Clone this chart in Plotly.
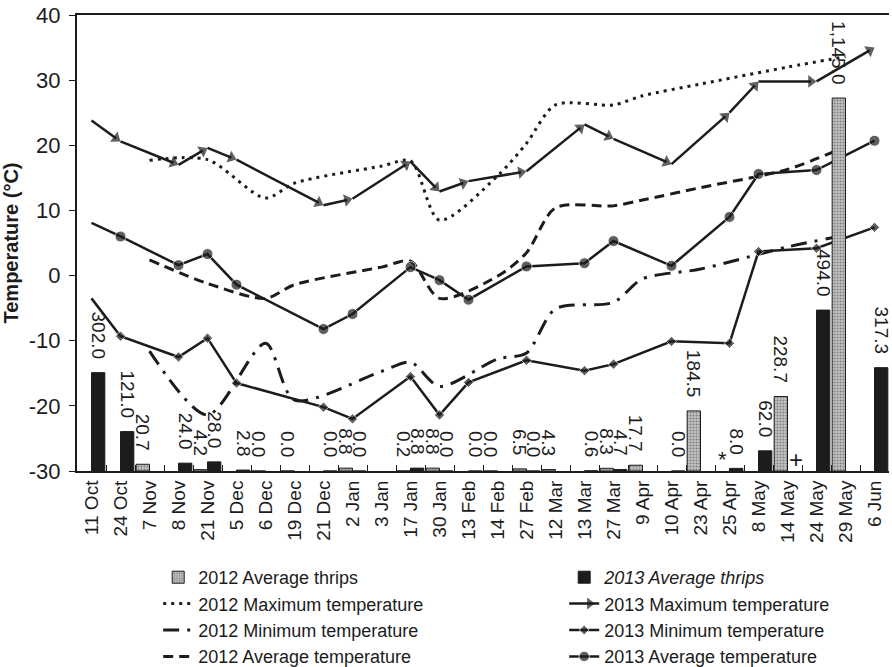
import plotly.graph_objects as go

categories = ["11 Oct", "24 Oct", "7 Nov", "8 Nov", "21 Nov", "5 Dec", "6 Dec", "19 Dec",
              "21 Dec", "2 Jan", "3 Jan", "17 Jan", "30 Jan", "13 Feb", "14 Feb", "27 Feb",
              "12 Mar", "13 Mar", "27 Mar", "9 Apr", "10 Apr", "23 Apr", "25 Apr", "8 May",
              "14 May", "24 May", "29 May", "6 Jun"]

N = None
thrips_2012 = [N, N, 20.7, N, 4.2, N, 0.0, 0.0, N, 8.8, N, 0.2, 8.8, N, 0.0, 6.5,
               4.3, N, 8.3, 17.7, N, 184.5, N, N, 228.7, N, 1145.0, N]
thrips_2013 = [302.0, 121.0, N, 24.0, 28.0, 2.8, N, N, 0.0, 0.0, N, 8.8, 0.0, 0.0, N, 0.0,
               N, 0.6, 4.7, N, 0.0, N, 8.0, 62.0, N, 494.0, N, 317.3]

max_2012 = [N, N, 17.7, N, 17.8, N, 11.9, 14.2, N, N, 16.8, 17.6, 8.5, N, 15.3, 20.3,
            26.2, N, 26.2, 27.6, N, 29.4, N, N, 32.0, N, 33.6, N]
min_2012 = [N, N, -11.6, N, -21.4, N, -10.4, -19.1, N, N, -14.7, -13.3, -17.0, N, -12.8, -11.9,
            -5.1, N, -4.1, -0.5, N, 1.0, N, N, 4.4, N, 6.2, N]
avg_2012 = [N, N, 2.4, N, -1.2, N, -3.5, -1.4, N, N, 1.3, 2.2, -3.5, N, -0.1, 3.5,
            10.4, N, 10.7, 11.6, N, 13.5, N, N, 16.3, N, 19.8, N]

max_2013 = [23.8, 20.6, N, 17.0, 19.6, 17.8, N, N, 10.8, 11.8, N, 17.5, 12.9, 14.5, N, 16.0,
            N, 23.2, 21.0, N, 17.1, N, 25.0, 29.8, N, 29.8, N, 35.0]
min_2013 = [-3.5, -9.3, N, -12.5, -9.6, -16.5, N, N, -20.2, -22.0, N, -15.5, -21.4, -16.4, N, -13.0,
            N, -14.6, -13.6, N, -10.1, N, -10.4, 3.7, N, 4.2, N, 7.4]
avg_2013 = [8.1, 6.0, N, 1.6, 3.3, -1.4, N, N, -8.2, -5.9, N, 1.3, -0.7, -3.7, N, 1.4,
            N, 1.9, 5.3, N, 1.5, N, 9.0, 15.6, N, 16.2, N, 20.7]

y_ticks = [-30, -20, -10, 0, 10, 20, 30, 40]

FONT = "Liberation Sans, Arial, sans-serif"
INK = "#1c1c1c"


def pts(values):
    xs = [c for c, v in zip(categories, values) if v is not None]
    ys = [v for v in values if v is not None]
    return xs, ys


fig = go.Figure()

bar_text = dict(texttemplate="%{y:,.1f}\u00a0\u00a0", textposition="outside", textangle=90,
                constraintext="none", cliponaxis=False,
                textfont=dict(size=19, color=INK, family=FONT))

fig.add_bar(x=categories, y=thrips_2012, yaxis="y2", name="2012 Average thrips",
            marker=dict(color="#a8a8a8", line=dict(color=INK, width=1),
                        pattern=dict(shape=".", fgcolor="#3c3c3c", bgcolor="#c4c4c4",
                                     size=3, solidity=0.4)),
            **bar_text)
fig.add_bar(x=categories, y=thrips_2013, yaxis="y2", name="<i>2013 Average thrips</i>",
            marker=dict(color=INK, line=dict(color=INK, width=1)), **bar_text)

x, y = pts(max_2012)
fig.add_scatter(x=x, y=y, name="2012 Maximum temperature", mode="lines",
                line=dict(color=INK, width=3, dash="3px,5px", shape="spline", smoothing=0.8))
x, y = pts(max_2013)
fig.add_scatter(x=x, y=y, name="2013 Maximum temperature", mode="lines+markers",
                line=dict(color=INK, width=2.5),
                marker=dict(symbol="triangle-up", angleref="previous", standoff=5.5, color=INK,
                            line=dict(width=0),
                            size=[0] + [11] * (len(y) - 1)))
x, y = pts(min_2012)
fig.add_scatter(x=x, y=y, name="2012 Minimum temperature", mode="lines",
                line=dict(color=INK, width=3, dash="16px,8px,3px,8px", shape="spline", smoothing=0.8))
x, y = pts(min_2013)
fig.add_scatter(x=x, y=y, name="2013 Minimum temperature", mode="lines+markers",
                line=dict(color=INK, width=2.5),
                marker=dict(symbol="diamond", color=INK, size=[0] + [8] * (len(y) - 1)))
x, y = pts(avg_2012)
fig.add_scatter(x=x, y=y, name="2012 Average temperature", mode="lines",
                line=dict(color=INK, width=3, dash="10px,6px", shape="spline", smoothing=0.8))
x, y = pts(avg_2013)
fig.add_scatter(x=x, y=y, name="2013 Average temperature", mode="lines+markers",
                line=dict(color=INK, width=2.5),
                marker=dict(symbol="circle", color=INK, size=[0] + [11] * (len(y) - 1)))

# missing-sample markers
fig.add_annotation(x="25 Apr", y=0, yref="y2", text="*", showarrow=False, xshift=-7, yshift=12,
                   font=dict(size=22, color=INK, family=FONT))
fig.add_annotation(x="14 May", y=0, yref="y2", text="+", showarrow=False, xshift=8, yshift=12,
                   font=dict(size=24, color=INK, family=FONT))

fig.update_layout(
    width=892, height=667,
    margin=dict(l=77, r=3, t=15, b=196, autoexpand=False),
    paper_bgcolor="white", plot_bgcolor="white",
    font=dict(family=FONT, size=19, color=INK),
    barmode="group", bargap=0.08, bargroupgap=0,
    hovermode=False,
    showlegend=True,
    legend=dict(orientation="h", x=0.1, xanchor="left", y=-0.193, yanchor="top",
                entrywidth=0.5, entrywidthmode="fraction", traceorder="normal",
                font=dict(size=18, family=FONT, color=INK), itemwidth=30,
                bgcolor="rgba(0,0,0,0)"),
    xaxis=dict(type="category", categoryorder="array", categoryarray=categories,
               range=[-0.5, len(categories) - 0.5],
               tickangle=-90, tickson="boundaries", ticks="inside", ticklen=6,
               tickcolor=INK, showline=True, linecolor=INK, linewidth=2, mirror=True,
               showgrid=False, automargin=False,
               tickfont=dict(size=19, family=FONT, color=INK)),
    yaxis=dict(range=[-30, 40], tickvals=y_ticks, ticktext=[str(v) for v in y_ticks],
               ticks="outside", ticklen=6, tickcolor=INK, showline=True, linecolor=INK,
               linewidth=2, showgrid=False, zeroline=False, automargin=False,
               ticklabelstandoff=4, ticklabeloverflow="allow",
               tickfont=dict(size=22, family=FONT, color=INK),
               title=dict(text="<b>Temperature (°C)</b>", font=dict(size=20, family=FONT, color=INK),
                          standoff=12)),
    yaxis2=dict(range=[0, 1400], overlaying="y", visible=False),
)

# remove the browser's default 8 px page margin so the figure sits at the window origin
fig.write_html("out.html", config={"displayModeBar": False},
               post_script="document.body.style.margin='0';")
